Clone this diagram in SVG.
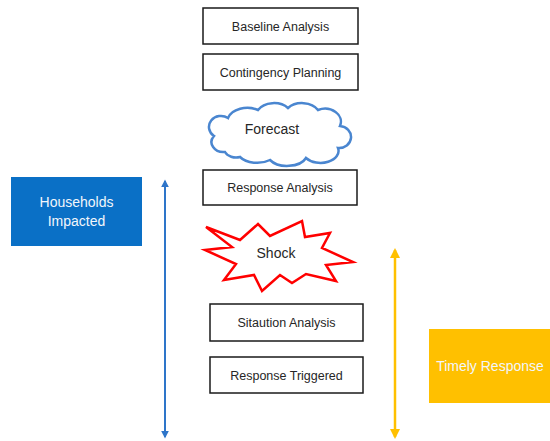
<svg xmlns="http://www.w3.org/2000/svg" width="550" height="441" viewBox="0 0 550 441">
  <defs>
    <style>
      .box { fill: #ffffff; stroke: #1a1a1a; stroke-width: 1.5; }
      .lbl { font-family: "Liberation Sans", Arial, sans-serif; font-size: 12.5px; fill: #262626; text-anchor: middle; }
      .lbl.shape { font-size: 14px; }
      .big { font-family: "Liberation Sans", Arial, sans-serif; font-size: 14px; fill: #f2f6fb; text-anchor: middle; }
      .blue-line { stroke: #2E75C9; stroke-width: 2; fill: none; }
      .gold-line { stroke: #FFC000; stroke-width: 2.5; fill: none; }
    </style>
    <marker id="headBlue" viewBox="0 0 10 10" refX="8" refY="5" markerWidth="4" markerHeight="4" orient="auto-start-reverse">
      <path d="M0,0 L10,5 L0,10 Z" fill="#2E75C9"/>
    </marker>
    <marker id="headGold" viewBox="0 0 10 10" refX="8" refY="5" markerWidth="4" markerHeight="4" orient="auto-start-reverse">
      <path d="M0,0 L10,5 L0,10 Z" fill="#FFC000"/>
    </marker>
  </defs>

  <g id="baseline">
    <rect class="box" x="203" y="8" width="155" height="36"/>
    <text class="lbl" x="280.5" y="30.5">Baseline Analysis</text>
  </g>

  <g id="contingency">
    <rect class="box" x="203" y="54" width="155" height="36"/>
    <text class="lbl" x="280.5" y="76.5">Contingency Planning</text>
  </g>

  <g id="forecast">
    <path d="M225,152 A12,10 0 0 1 214,136 A12,11 0 0 1 228,118 A20,14 0 0 1 258,110 A18,13 0 0 1 288,108 A18,13 0 0 1 318,110 A16,13 0 0 1 340,126 A12,11 0 0 1 338,148 A18,12 0 0 1 306,158 A20,12 0 0 1 270,160 A20,12 0 0 1 240,157 A12,9 0 0 1 225,152 Z"
          fill="#ffffff" stroke="#4A86D0" stroke-width="2.5"/>
    <text class="lbl shape" x="272" y="134">Forecast</text>
  </g>

  <g id="response-analysis">
    <rect class="box" x="203" y="170" width="154" height="35"/>
    <text class="lbl" x="280" y="192">Response Analysis</text>
  </g>

  <g id="shock">
    <polygon points="206,227 240,240 258,224 270,236 302,221 305,237 330,233 322,248 353,262 326,265 336,281 306,274 292,283 280,275 262,291 254,275 224,280 236,264 205,250 232,247"
             fill="#ffffff" stroke="#FF0000" stroke-width="2.5" stroke-linejoin="miter"/>
    <text class="lbl shape" x="276" y="258">Shock</text>
  </g>

  <g id="situation">
    <rect class="box" x="210" y="304" width="153" height="37"/>
    <text class="lbl" x="286.5" y="327">Sitaution Analysis</text>
  </g>

  <g id="triggered">
    <rect class="box" x="210" y="357" width="153" height="36"/>
    <text class="lbl" x="286.5" y="379.5">Response Triggered</text>
  </g>

  <g id="households">
    <rect x="11" y="177" width="131" height="69" fill="#0A70C6"/>
    <text class="big" x="76.5" y="207">Households</text>
    <text class="big" x="76.5" y="226">Impacted</text>
  </g>

  <g id="timely">
    <rect x="429" y="329" width="121" height="74" fill="#FFC000"/>
    <text class="big" x="490" y="371">Timely Response</text>
  </g>

  <g id="connectors">
    <line class="blue-line" x1="165" y1="181" x2="165" y2="437" marker-start="url(#headBlue)" marker-end="url(#headBlue)"/>
    <line class="gold-line" x1="395" y1="250" x2="395" y2="437" marker-start="url(#headGold)" marker-end="url(#headGold)"/>
  </g>
</svg>
